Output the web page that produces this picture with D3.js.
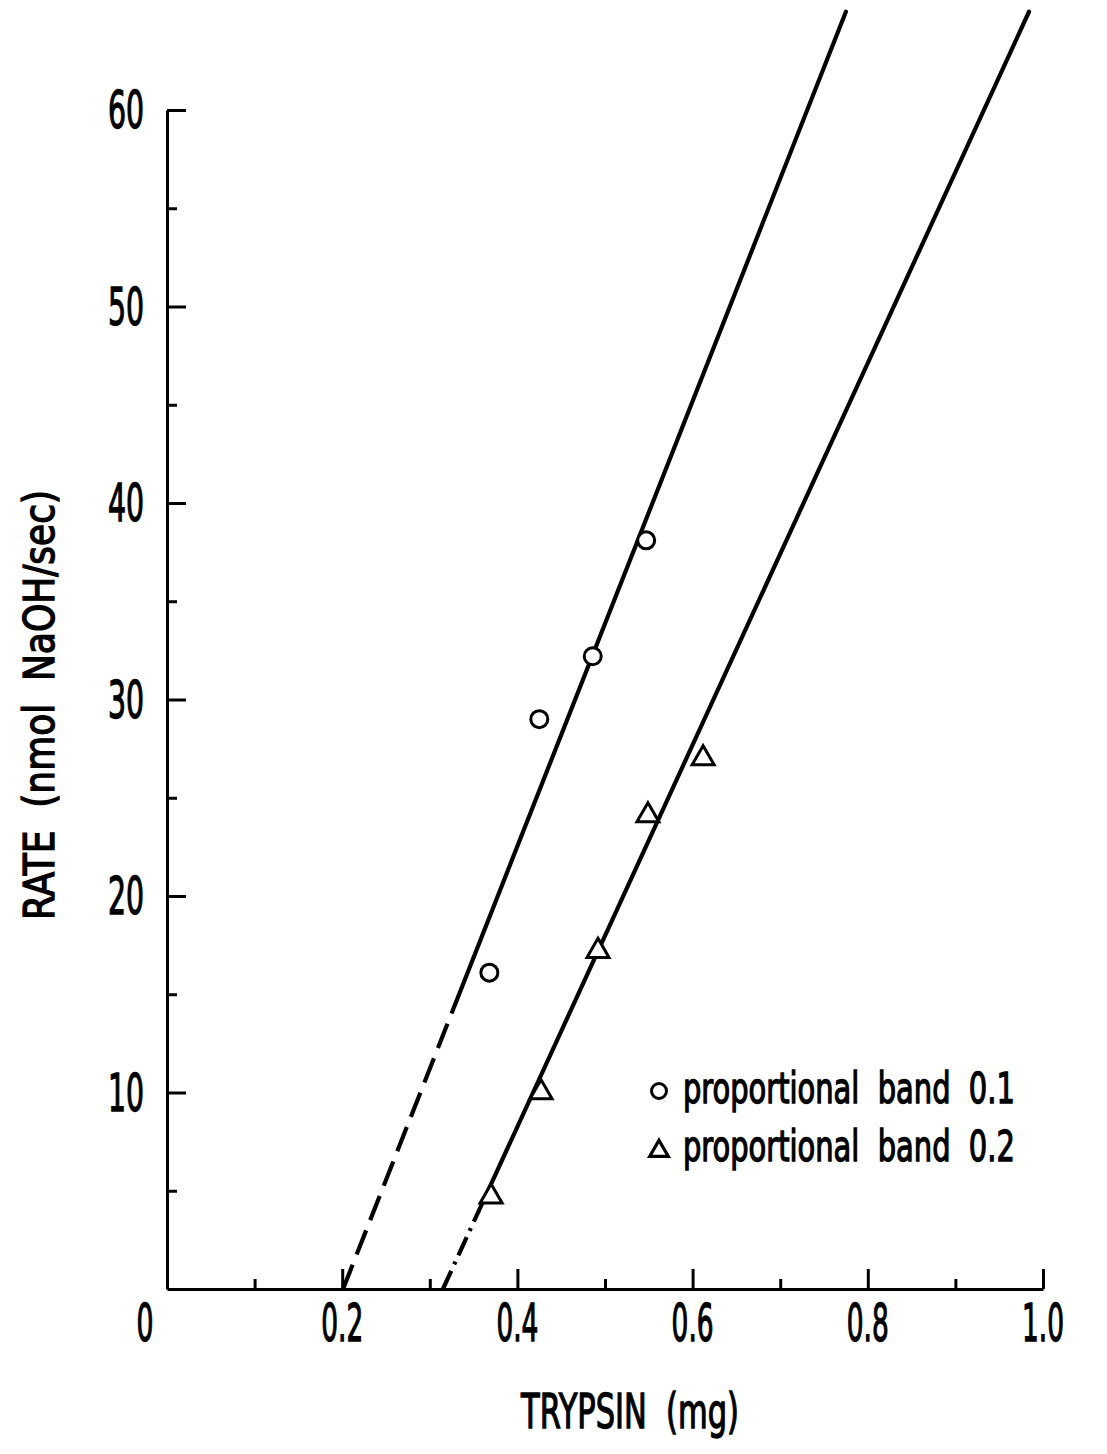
<!DOCTYPE html>
<html>
<head>
<title>Trypsin rate</title>
<script src="https://cdnjs.cloudflare.com/ajax/libs/d3/7.8.5/d3.min.js"></script>
<style>
  body { margin: 0; background: #fff; }
  text { font-family: "Liberation Sans Narrow", "DejaVu Sans Condensed", "Liberation Sans", sans-serif; fill: #000; stroke: #000; stroke-width: 1.3px; white-space: pre; }
</style>
</head>
<body>
<script>
// measured points, band 0.1 (circles)
var circleX = [0.368, 0.425, 0.486, 0.547];
var circleY = [16.1, 29.0, 32.2, 38.1];
// band 0.2 (triangles)
var triX = [0.370, 0.427, 0.492, 0.549, 0.612];
var triY = [4.7, 10.0, 17.2, 24.1, 27.0];

// fitted lines: [x at rate 0, x at top], rate where solid part starts
var fit1X = [0.201, 0.775];
var fit2X = [0.315, 0.984];
var fitY = [0, 65.0];
var dashEnd = [15, 4];

var xTicks = [0, 0.1, 0.2, 0.3, 0.4, 0.5, 0.6, 0.7, 0.8, 0.9, 1.0];
var xLabels = ["0", "0.2", "0.4", "0.6", "0.8", "1.0"];
var yTicks = [5, 10, 15, 20, 25, 30, 35, 40, 45, 50, 55, 60];
var yLabels = ["10", "20", "30", "40", "50", "60"];
var legendText = ["proportional  band  0.1", "proportional  band  0.2"];

var width = 1107, height = 1454;

var svg = d3.select("body").append("svg")
  .attr("width", width)
  .attr("height", height);

var x = d3.scaleLinear().domain([0, 1]).range([167, 1043]);
var y = d3.scaleLinear().domain([0, 60]).range([1289, 110]);

// put a text at (tx,ty) and squeeze it horizontally to width w (condensed face)
function label(str, tx, ty, anchor, size, w, rot) {
  var t = svg.append("text")
    .attr("text-anchor", anchor)
    .attr("font-size", size)
    .text(str);
  var L = t.node().getComputedTextLength();
  t.attr("transform", "translate(" + tx + "," + ty + ")" +
    (rot ? " rotate(" + rot + ")" : "") + " scale(" + (w / L) + ",1)");
  return t;
}

// x axis with inward ticks
var xAxis = d3.axisBottom(x)
  .tickValues(xTicks)
  .tickSizeOuter(0)
  .tickFormat("");
var gx = svg.append("g")
  .attr("transform", "translate(0," + y(0) + ")")
  .call(xAxis);
gx.selectAll(".tick line")
  .attr("y2", function(d) { return Math.round(d * 10) % 2 === 0 ? -20 : -10; })
  .attr("stroke-width", 3);
gx.select(".domain").attr("stroke-width", 3);

// y axis, ticks pointing right
var yAxis = d3.axisLeft(y)
  .tickValues(yTicks)
  .tickSizeOuter(0)
  .tickFormat("");
var gy = svg.append("g")
  .attr("transform", "translate(" + x(0) + ",0)")
  .call(yAxis);
gy.selectAll(".tick line")
  .attr("x2", function(d) { return d % 10 === 0 ? 19 : 10; })
  .attr("stroke-width", 3);
gy.select(".domain").attr("stroke-width", 3);

// tick labels
xLabels.forEach(function(d) {
  label(d, +d === 0 ? x(0) - 22 : x(+d), 1341, "middle", 52, d.length === 1 ? 17 : 42);
});
yLabels.forEach(function(d) {
  label(d, 144, y(+d) + 18, "end", 52, 36);
});

// axis titles
label("TRYPSIN  (mg)", 630, 1428, "middle", 48, 218);
label("RATE  (nmol  NaOH/sec)", 54, 705, "middle", 42, 430, -90);

// fitted lines, dashed near the baseline
function drawFit(xs, yStart, dash) {
  var slope = (xs[1] - xs[0]) / (fitY[1] - fitY[0]);
  var xAt = function(v) { return xs[0] + slope * v; };
  svg.append("line")
    .attr("x1", x(xs[0])).attr("y1", y(0))
    .attr("x2", x(xAt(yStart))).attr("y2", y(yStart))
    .attr("stroke", "#000").attr("stroke-width", 4.2)
    .attr("stroke-dasharray", dash);
  svg.append("line")
    .attr("x1", x(xAt(yStart))).attr("y1", y(yStart))
    .attr("x2", x(xs[1])).attr("y2", y(fitY[1]))
    .attr("stroke", "#000").attr("stroke-width", 4.2)
    .attr("stroke-linecap", "round");
}
drawFit(fit1X, dashEnd[0], "26,11");
drawFit(fit2X, dashEnd[1], "20,7,3,7");

// points
var circles = circleX.map(function(v, i) { return [v, circleY[i]]; });
var tris = triX.map(function(v, i) { return [v, triY[i]]; });

svg.selectAll(".pc").data(circles).enter().append("circle")
  .attr("class", "pc")
  .attr("cx", function(d) { return x(d[0]); })
  .attr("cy", function(d) { return y(d[1]); })
  .attr("r", 8.5)
  .attr("fill", "#fff")
  .attr("stroke", "#000")
  .attr("stroke-width", 3);

var triPath = d3.symbol().type(d3.symbolTriangle).size(210);
svg.selectAll(".pt").data(tris).enter().append("path")
  .attr("class", "pt")
  .attr("d", triPath)
  .attr("transform", function(d) { return "translate(" + x(d[0]) + "," + y(d[1]) + ")"; })
  .attr("fill", "#fff")
  .attr("stroke", "#000")
  .attr("stroke-width", 3);

// legend
svg.append("circle")
  .attr("cx", 659).attr("cy", 1091).attr("r", 7.5)
  .attr("fill", "#fff").attr("stroke", "#000").attr("stroke-width", 3);
svg.append("path")
  .attr("d", d3.symbol().type(d3.symbolTriangle).size(150))
  .attr("transform", "translate(659,1151)")
  .attr("fill", "#fff").attr("stroke", "#000").attr("stroke-width", 3.2);
legendText.forEach(function(d, i) {
  label(d, 683, 1103 + i * 58, "start", 42, 332);
});
</script>
</body>
</html>
